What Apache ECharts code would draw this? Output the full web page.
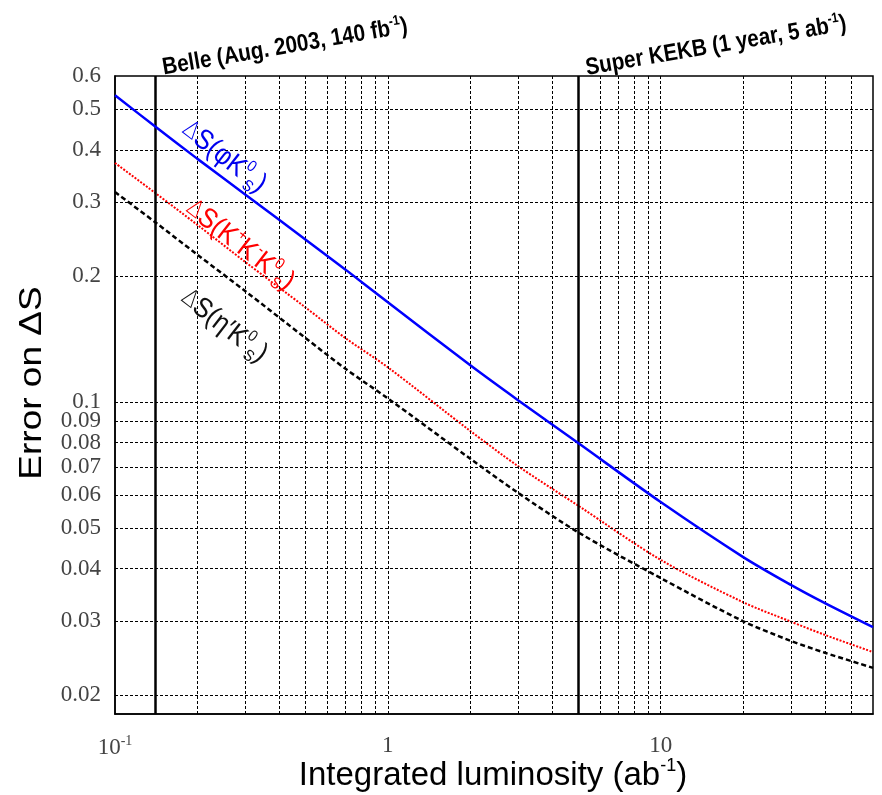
<!DOCTYPE html>
<html>
<head>
<meta charset="utf-8">
<script src="https://cdn.jsdelivr.net/npm/echarts@6/dist/echarts.min.js"></script>
<style>
html, body { margin: 0; padding: 0; background: #fff; }
#chart { width: 882px; height: 795px; }
</style>
</head>
<body>
<div id="chart"></div>
<script>
// integrated luminosity (ab^-1) where the curves were read
var lumi = [0.1, 0.14, 0.2, 0.3, 0.5, 0.7, 1, 2, 3, 5, 10, 20, 30, 40, 60];
// error on Delta S for each mode
var errPhiKs = [0.54, 0.455, 0.381, 0.313, 0.244, 0.207, 0.173, 0.1225, 0.101, 0.0797, 0.0577, 0.0427, 0.0366, 0.0331, 0.029];
var errKKKs  = [0.372, 0.316, 0.265, 0.216, 0.168, 0.142, 0.121, 0.0854, 0.0703, 0.0565, 0.042, 0.0333, 0.0299, 0.0278, 0.0253];
var errEtaKs = [0.317, 0.269, 0.225, 0.184, 0.142, 0.12, 0.102, 0.0733, 0.0607, 0.0488, 0.038, 0.030, 0.0269, 0.0252, 0.0232];

// grid lines and tick labels
var xGrid = [0.2, 0.3, 0.4, 0.5, 0.6, 0.7, 0.8, 0.9, 1, 2, 3, 4, 5, 6, 7, 8, 9, 10, 20, 30, 40, 50];
var yGrid = [0.02, 0.03, 0.04, 0.05, 0.06, 0.07, 0.08, 0.09, 0.1, 0.2, 0.3, 0.4, 0.5];
var yTicks = [0.02, 0.03, 0.04, 0.05, 0.06, 0.07, 0.08, 0.09, 0.1, 0.2, 0.3, 0.4, 0.5, 0.6];
// Belle 2003 (140 fb^-1) and Super KEKB one year (5 ab^-1)
var markers = [0.14, 5];

function pairs(ys) {
    return lumi.map(function (x, i) { return [x, ys[i]]; });
}

var chart = echarts.init(document.getElementById('chart'));

var gridLines = [];
xGrid.forEach(function (v) {
    gridLines.push({ xAxis: v, label: { show: false } });
});
yTicks.forEach(function (v) {
    gridLines.push({
        yAxis: v,
        lineStyle: { color: yGrid.indexOf(v) >= 0 ? '#000' : 'rgba(0,0,0,0)' },
        label: {
            show: true,
            position: 'start',
            distance: 14,
            formatter: String(v),
            fontFamily: 'Liberation Serif',
            fontSize: 23,
            color: '#444'
        }
    });
});

function curveLabel(x, y, text, color, deltaColor) {
    return {
        type: 'text',
        x: x, y: y,
        rotation: -0.66,
        scaleX: 0.9,
        z: 10,
        style: {
            text: text,
            align: 'center',
            verticalAlign: 'middle',
            fontFamily: 'Liberation Sans',
            fontSize: 28,
            fill: color,
            rich: {
                d: { fontSize: 24, color: deltaColor, fontFamily: 'DejaVu Sans', fontWeight: 200, lineHeight: 34 },
                m: { fontSize: 28, color: color, lineHeight: 34 },
                p: { fontSize: 16, color: color, verticalAlign: 'top', lineHeight: 34 },
                b: { fontSize: 16, color: color, verticalAlign: 'bottom', lineHeight: 34 }
            }
        }
    };
}

var option = {
    animation: false,
    backgroundColor: '#fff',
    grid: {
        left: 115, right: 9, top: 76, bottom: 81,
        outerBoundsMode: 'none',
        show: true,
        borderColor: '#000',
        borderWidth: 1.5,
        backgroundColor: 'transparent'
    },
    xAxis: {
        type: 'log',
        logBase: 10,
        min: 0.1,
        max: 60,
        axisLine: { show: true, lineStyle: { color: '#000', width: 1.5 } },
        axisTick: { show: false },
        splitLine: { show: false },
        axisLabel: {
            margin: 20,
            fontFamily: 'Liberation Serif',
            fontSize: 23,
            color: '#444',
            formatter: function (v) {
                var e = Math.log10(v);
                if (Math.abs(e - Math.round(e)) > 1e-6) return '';
                e = Math.round(e);
                if (e < 0) return '10{s|' + e + '}';
                return String(Math.pow(10, e));
            },
            rich: {
                s: { fontSize: 14, verticalAlign: 'top', lineHeight: 28, fontFamily: 'Liberation Serif', color: '#444' }
            }
        }
    },
    yAxis: {
        type: 'log',
        logBase: 10,
        min: 0.018,
        max: 0.6,
        axisLine: { show: true, lineStyle: { color: '#000', width: 1.5 } },
        axisTick: { show: false },
        splitLine: { show: false },
        axisLabel: { show: false }
    },
    graphic: [
        {
            type: 'text', x: 32, y: 383, rotation: Math.PI / 2, scaleY: 0.85,
            style: {
                text: 'Error on ΔS', align: 'center', verticalAlign: 'middle',
                fontFamily: 'Liberation Sans', fontSize: 37, fill: '#000'
            }
        },
        {
            type: 'text', x: 493, y: 776,
            style: {
                text: 'Integrated luminosity (ab{s|-1})', align: 'center', verticalAlign: 'middle',
                fontFamily: 'Liberation Sans', fontSize: 33, fill: '#000',
                rich: { s: { fontSize: 18, verticalAlign: 'top', lineHeight: 38, fontFamily: 'Liberation Sans' } }
            }
        },
        {
            type: 'text', x: 285, y: 47, rotation: 0.17, scaleX: 0.86,
            style: {
                text: 'Belle (Aug. 2003, 140 fb{s|-1})', align: 'center', verticalAlign: 'middle',
                fontFamily: 'Liberation Sans', fontWeight: 'bold', fontSize: 24, fill: '#000',
                rich: { s: { fontSize: 14, fontWeight: 'bold', verticalAlign: 'top', lineHeight: 28, fontFamily: 'Liberation Sans' } }
            }
        },
        {
            type: 'text', x: 716, y: 46, rotation: 0.17, scaleX: 0.86,
            style: {
                text: 'Super KEKB (1 year, 5 ab{s|-1})', align: 'center', verticalAlign: 'middle',
                fontFamily: 'Liberation Sans', fontWeight: 'bold', fontSize: 24, fill: '#000',
                rich: { s: { fontSize: 14, fontWeight: 'bold', verticalAlign: 'top', lineHeight: 28, fontFamily: 'Liberation Sans' } }
            }
        },
        curveLabel(224, 157, '{d|Δ}{m|S(φK}{p|0}{b|S}{m|)}', '#0000ee', '#6b6bff'),
        curveLabel(240, 245, '{d|Δ}{m|S(K}{p|+}{m|K}{p|-}{m|K}{p|0}{b|S}{m|)}', '#ff0000', '#ff7070'),
        curveLabel(224, 326, '{d|Δ}{m|S(η′K}{p|0}{b|S}{m|)}', '#111', '#777')
    ],
    series: [
        {
            name: 'grid',
            type: 'line',
            data: [],
            z: 1,
            markLine: {
                silent: true,
                symbol: 'none',
                animation: false,
                lineStyle: { color: '#000', type: [3, 2], width: 1 },
                data: gridLines
            }
        },
        {
            name: 'markers',
            type: 'line',
            data: [],
            z: 2,
            markLine: {
                silent: true,
                symbol: 'none',
                animation: false,
                label: { show: false },
                lineStyle: { color: '#000', type: 'solid', width: 2.5 },
                data: markers.map(function (v) { return { xAxis: v }; })
            }
        },
        {
            name: 'ΔS(η′K0S)',
            type: 'line',
            data: pairs(errEtaKs),
            smooth: 0.3,
            showSymbol: false,
            z: 3,
            lineStyle: { color: '#000', width: 2.5, type: [5, 3] }
        },
        {
            name: 'ΔS(K+K-K0S)',
            type: 'line',
            data: pairs(errKKKs),
            smooth: 0.3,
            showSymbol: false,
            z: 4,
            lineStyle: { color: '#ff0000', width: 2, type: [2, 1.5] }
        },
        {
            name: 'ΔS(φK0S)',
            type: 'line',
            data: pairs(errPhiKs),
            smooth: 0.3,
            showSymbol: false,
            z: 5,
            lineStyle: { color: '#0000ff', width: 2.5 }
        }
    ]
};

chart.setOption(option);
</script>
</body>
</html>
